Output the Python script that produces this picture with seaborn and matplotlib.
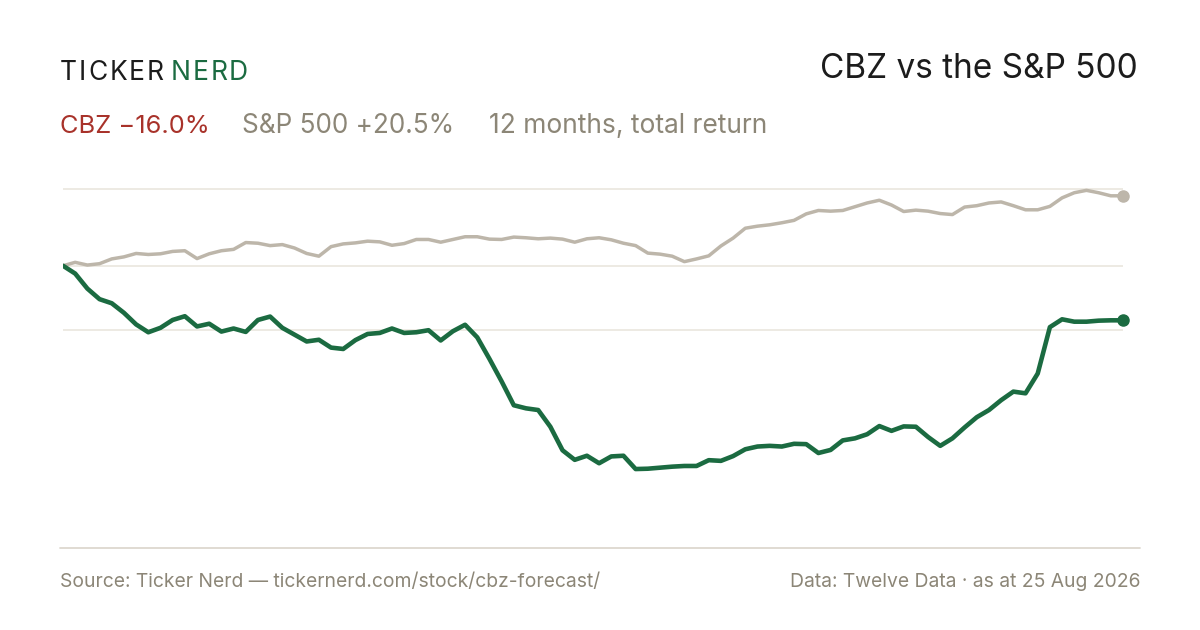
import matplotlib
matplotlib.use("Agg")
import matplotlib.pyplot as plt
import seaborn as sns
import numpy as np
import pandas as pd

# ---- data (12 months, total return, %) ----
sp500 = [0.0, 1.0, 0.2, 0.6, 2.0, 2.6, 3.6, 3.3, 3.5, 4.2, 4.4, 2.1, 3.5, 4.4, 4.8, 6.8,
         6.6, 5.9, 6.2, 5.2, 3.6, 2.8, 5.6, 6.4, 6.7, 7.2, 7.0, 6.0, 6.5, 7.7, 7.7, 6.9,
         7.7, 8.5, 8.5, 7.8, 7.7, 8.4, 8.2, 7.9, 8.1, 7.8, 6.9, 7.9, 8.2, 7.6, 6.6, 5.9,
         3.7, 3.4, 2.8, 1.2, 2.0, 2.9, 5.8, 8.1, 11.0, 11.6, 12.0, 12.6, 13.3, 15.2, 16.2,
         16.0, 16.2, 17.3, 18.4, 19.2, 17.8, 15.9, 16.3, 16.0, 15.3, 15.0, 17.2, 17.6,
         18.4, 18.7, 17.6, 16.4, 16.4, 17.4, 19.9, 21.4, 22.1, 21.4, 20.5, 20.5]
cbz = [0.0, -2.3, -6.7, -9.8, -11.0, -13.8, -17.2, -19.5, -18.2, -15.9, -14.8, -17.8,
       -17.0, -19.3, -18.4, -19.4, -15.9, -14.9, -18.2, -20.2, -22.2, -21.7, -24.0, -24.4,
       -21.8, -20.0, -19.7, -18.4, -19.7, -19.5, -18.9, -21.9, -19.2, -17.3, -21.0, -27.3,
       -33.9, -40.9, -41.8, -42.3, -47.2, -54.1, -56.9, -55.7, -57.9, -55.9, -55.7, -59.6,
       -59.5, -59.2, -58.9, -58.7, -58.7, -57.0, -57.2, -55.8, -53.8, -53.0, -52.8, -53.0,
       -52.2, -52.3, -54.9, -54.0, -51.2, -50.6, -49.4, -47.0, -48.4, -47.1, -47.2, -50.2,
       -52.8, -50.6, -47.4, -44.4, -42.3, -39.4, -36.9, -37.4, -31.6, -18.0, -15.7, -16.4,
       -16.4, -16.1, -16.0, -16.0]
grid_levels = [22.4, 0.0, -18.8]

title = "CBZ vs the S&P 500"
cbz_label = "CBZ \u221216.0%"
sp_label = "S&P 500 +20.5%"
period_label = "12 months, total return"
source_text = "Source: Ticker Nerd \u2014 tickernerd.com/stock/cbz-forecast/"
data_text = "Data: Twelve Data \u00b7 as at 25 Aug 2026"

GREEN = "#1b6b41"
SPGREY = "#bdb6aa"
RED = "#a8322a"
MUTED = "#8c8677"
INK = "#1c1c1c"
GRID = "#ece8e1"

sns.set_theme(style="white")
plt.rcParams["font.family"] = ["Inter", "DejaVu Sans"]

df = pd.DataFrame({"step": np.arange(len(cbz)), "CBZ": cbz, "S&P 500": sp500})

W, H = 1200, 630
fig = plt.figure(figsize=(12, 6.3), dpi=100)
fig.patch.set_facecolor("white")
ax = fig.add_axes([63 / W, 1 - 540 / H, 1060 / W, (540 - 175) / H])
ax.set_facecolor("white")

sns.lineplot(data=df, x="step", y="S&P 500", ax=ax, color=SPGREY, lw=2.5, zorder=3)
sns.lineplot(data=df, x="step", y="CBZ", ax=ax, color=GREEN, lw=3.3, zorder=4)
last = df.iloc[-1]
ax.plot([last["step"]], [last["S&P 500"]], "o", color=SPGREY, ms=8, zorder=5, clip_on=False)
ax.plot([last["step"]], [last["CBZ"]], "o", color=GREEN, ms=8, zorder=6, clip_on=False)

ax.set_xlim(0, len(cbz) - 1)
ax.set_ylim(-80.4, 26.6)
ax.set_yticks(grid_levels)
ax.set_xticks([])
ax.grid(axis="y", color=GRID, lw=1.3)
ax.tick_params(left=False, bottom=False, labelleft=False, labelbottom=False)
for s in ax.spines.values():
    s.set_visible(False)
ax.set_xlabel("")
ax.set_ylabel("")

def fx(x):
    return x / W

def fy(y):
    return 1 - y / H

# bottom rule
fig.add_artist(plt.Line2D([fx(60), fx(1140)], [fy(548), fy(548)], color="#ddd8cf", lw=1.3))

# brand with letter spacing
renderer = fig.canvas.get_renderer()
xpos = 60
for word, col in (("TICKER", INK), ("NERD", GREEN)):
    for ch in word:
        t = fig.text(fx(xpos), fy(80), ch, fontsize=19, color=col, va="baseline", ha="left")
        w = t.get_window_extent(renderer).width
        xpos += w + 1.9
    xpos += 5

fig.text(fx(1138), fy(78), title, fontsize=24, color=INK, ha="right", va="baseline")

fig.text(fx(60), fy(133), cbz_label, fontsize=18.3, color=RED, ha="left", va="baseline")
fig.text(fx(242), fy(133), sp_label, fontsize=18.8, color=MUTED, ha="left", va="baseline")
fig.text(fx(489), fy(133), period_label, fontsize=19, color=MUTED, ha="left", va="baseline")

fig.text(fx(60), fy(587), source_text, fontsize=13.9, color=MUTED, ha="left", va="baseline")
fig.text(fx(1140), fy(587), data_text, fontsize=13.9, color=MUTED, ha="right", va="baseline")

fig.savefig("out.png", dpi=100, facecolor="white")
